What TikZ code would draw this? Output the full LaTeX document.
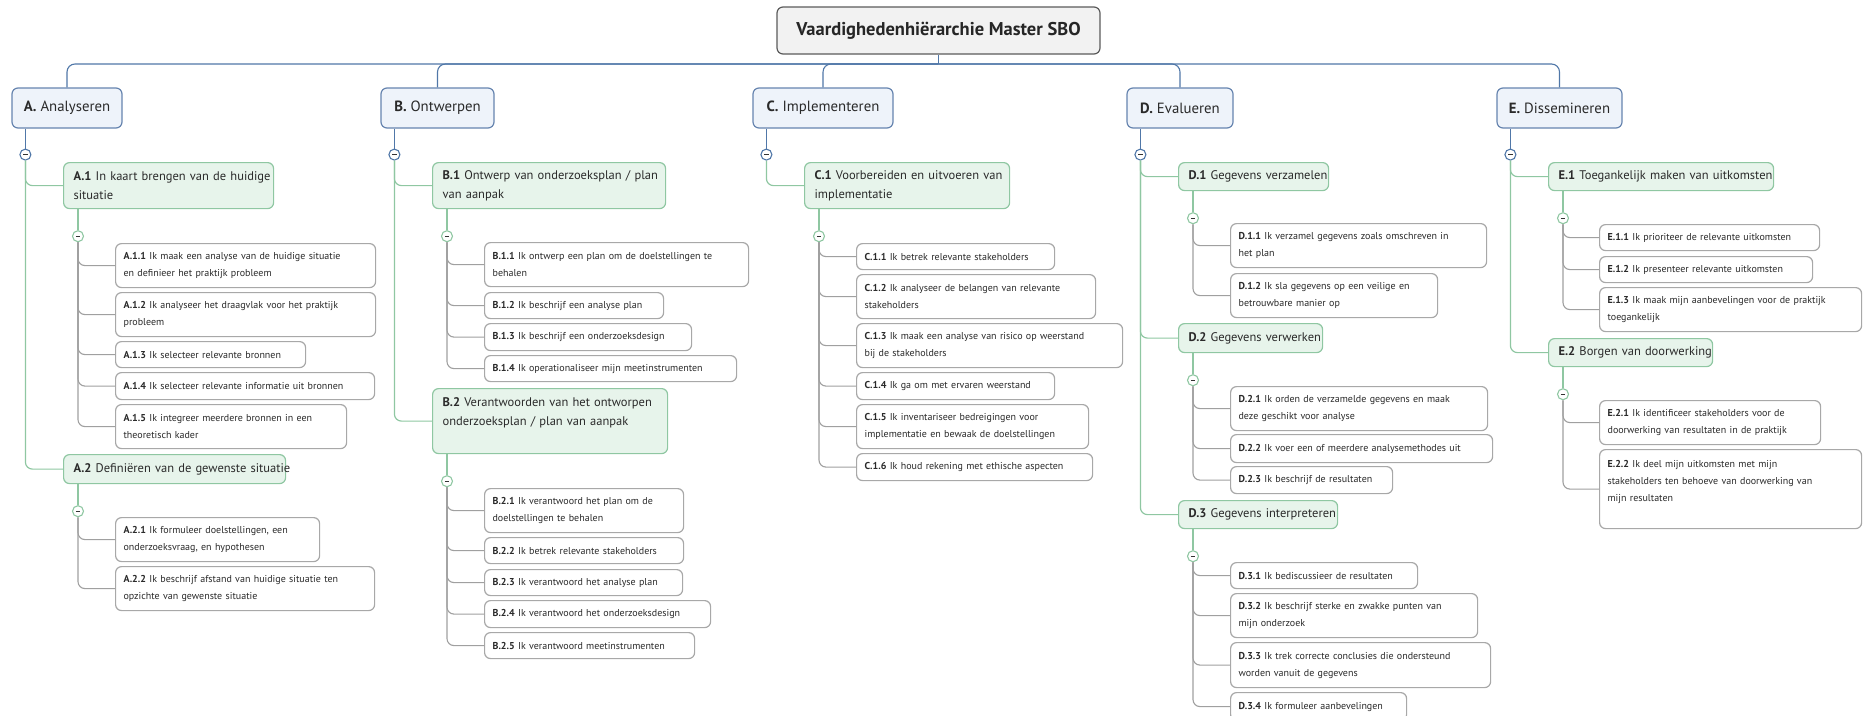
\documentclass[tikz,border=0pt]{standalone}
\usepackage{fontspec}
\setmainfont{PT Sans}
\definecolor{busblue}{HTML}{5077A8}
\definecolor{mainfill}{HTML}{EEF3FA}
\definecolor{maindraw}{HTML}{6684AF}
\definecolor{rootfill}{HTML}{F2F2F2}
\definecolor{rootdraw}{HTML}{5A5A5A}
\definecolor{skillgreen}{HTML}{8FC7A2}
\definecolor{skillfill}{HTML}{E7F4EB}
\definecolor{itemgray}{HTML}{A8A8A8}
\definecolor{linegray}{HTML}{A0A0A0}
\definecolor{txt}{HTML}{2A2A2A}

\begin{document}
\begin{tikzpicture}[
  x=1pt, y=-1pt,
  line width=1.2pt,
  rootbox/.style={
     rectangle,
     rounded corners=6pt,
     draw=rootdraw,
     fill=rootfill,
     minimum width=323pt,
     minimum height=47pt,
     font=\fontsize{18.5}{22}\selectfont\bfseries,
     text=black!85
  },
  mainbox/.style={
     rectangle,
     rounded corners=6pt,
     draw=maindraw,
     fill=mainfill,
     minimum height=40pt,
     font=\fontsize{14.8}{18}\selectfont,
     text=txt
  },
  skill/.style={
     rectangle,
     anchor=north west,
     rounded corners=6pt,
     draw=skillgreen,
     fill=skillfill,
     inner xsep=10pt,
     inner ysep=2pt,
     align=left,
     font=\fontsize{12.5}{19}\selectfont,
     text=txt
  },
  item/.style={
     rectangle,
     anchor=north west,
     rounded corners=6pt,
     draw=itemgray,
     fill=white,
     inner xsep=8pt,
     inner ysep=2pt,
     align=left,
     font=\fontsize{10}{17}\selectfont,
     text=txt
  },
  toggle/.style={
     circle,
     draw=#1,
     fill=white,
     line width=1.1pt,
     minimum size=11pt,
     inner sep=0pt,
     path picture={\draw[black!80, line width=1.4pt]
        ([xshift=-2.2pt]path picture bounding box.center) --
        ([xshift=2.2pt]path picture bounding box.center);}
  },
  busline/.style={draw=busblue, line width=1.1pt},
  greenline/.style={draw=skillgreen, line width=1.2pt},
  grayline/.style={draw=linegray, line width=1.1pt}
]
   \useasboundingbox (0,0) rectangle (1863,715);

   % The root and the five competences
   \node[rootbox] (root) at (938.5,30.5) {Vaardighedenhiërarchie Master SBO};
   \coordinate (bus) at (938.5,64);
   \node[mainbox,minimum width=110pt] (A) at (67,108) {\textbf{A.} Analyseren};
   \node[mainbox,minimum width=113pt] (B) at (437.5,108) {\textbf{B.} Ontwerpen};
   \node[mainbox,minimum width=140pt] (C) at (823,108) {\textbf{C.} Implementeren};
   \node[mainbox,minimum width=106pt] (D) at (1180,108) {\textbf{D.} Evalueren};
   \node[mainbox,minimum width=125pt] (E) at (1559.5,108) {\textbf{E.} Dissemineren};

   % The collapse toggles under the competences
   \node[toggle=busblue] (At) at ([shift={(14,26)}]A.south west) {};
   \node[toggle=busblue] (Bt) at ([shift={(14,26)}]B.south west) {};
   \node[toggle=busblue] (Ct) at ([shift={(14,26)}]C.south west) {};
   \node[toggle=busblue] (Dt) at ([shift={(14,26)}]D.south west) {};
   \node[toggle=busblue] (Et) at ([shift={(14,26)}]E.south west) {};

   % A. Analyseren
   \node[skill,text width=190pt,minimum height=46pt] (A1) at (63,162)
      {\mbox{\textbf{A.1} In kaart brengen van de huidige}\\situatie};
   \node[item,text width=244pt,minimum height=44pt] (A11) at (115,243)
      {\textbf{A.1.1} Ik maak een analyse van de huidige situatie\\en definieer het praktijk probleem};
   \node[item,text width=244pt,minimum height=44pt] (A12) at (115,292)
      {\textbf{A.1.2} Ik analyseer het draagvlak voor het praktijk\\probleem};
   \node[item,text width=174pt,minimum height=26pt] (A13) at (115,341)
      {\textbf{A.1.3} Ik selecteer relevante bronnen};
   \node[item,text width=243pt,minimum height=27pt] (A14) at (115,372)
      {\textbf{A.1.4} Ik selecteer relevante informatie uit bronnen};
   \node[item,text width=215pt,minimum height=44pt] (A15) at (115,404)
      {\textbf{A.1.5} Ik integreer meerdere bronnen in een\\theoretisch kader};
   \node[skill,text width=202pt,minimum height=29pt] (A2) at (63,454)
      {\mbox{\textbf{A.2} Definiëren van de gewenste situatie}};
   \node[item,text width=188pt,minimum height=44pt] (A21) at (115,517)
      {\textbf{A.2.1} Ik formuleer doelstellingen, een\\onderzoeksvraag, en hypothesen};
   \node[item,text width=243pt,minimum height=44pt] (A22) at (115,566)
      {\textbf{A.2.2} Ik beschrijf afstand van huidige situatie ten\\opzichte van gewenste situatie};

   % B. Ontwerpen
   \node[skill,text width=213pt,minimum height=46pt] (B1) at (432,162)
      {\mbox{\textbf{B.1} Ontwerp van onderzoeksplan / plan}\\van aanpak};
   \node[item,text width=248pt,minimum height=44pt] (B11) at (484,242)
      {\textbf{B.1.1} Ik ontwerp een plan om de doelstellingen te\\behalen};
   \node[item,text width=163pt,minimum height=26pt] (B12) at (484,292)
      {\textbf{B.1.2} Ik beschrijf een analyse plan};
   \node[item,text width=191pt,minimum height=27pt] (B13) at (484,323)
      {\textbf{B.1.3} Ik beschrijf een onderzoeksdesign};
   \node[item,text width=236pt,minimum height=26pt] (B14) at (484,355)
      {\textbf{B.1.4} Ik operationaliseer mijn meetinstrumenten};
   \node[skill,text width=215pt,minimum height=65pt] (B2) at (432,388)
      {\mbox{\textbf{B.2} Verantwoorden van het ontworpen}\\\mbox{onderzoeksplan / plan van aanpak}\\\mbox{}};
   \node[item,text width=183pt,minimum height=44pt] (B21) at (484,488)
      {\textbf{B.2.1} Ik verantwoord het plan om de\\doelstellingen te behalen};
   \node[item,text width=183pt,minimum height=26pt] (B22) at (484,537)
      {\textbf{B.2.2} Ik betrek relevante stakeholders};
   \node[item,text width=182pt,minimum height=26pt] (B23) at (484,569)
      {\textbf{B.2.3} Ik verantwoord het analyse plan};
   \node[item,text width=210pt,minimum height=27pt] (B24) at (484,600)
      {\textbf{B.2.4} Ik verantwoord het onderzoeksdesign};
   \node[item,text width=194pt,minimum height=26pt] (B25) at (484,632)
      {\textbf{B.2.5} Ik verantwoord meetinstrumenten};

   % C. Implementeren
   \node[skill,text width=185pt,minimum height=46pt] (C1) at (804,162)
      {\mbox{\textbf{C.1} Voorbereiden en uitvoeren van}\\implementatie};
   \node[item,text width=182pt,minimum height=26pt] (C11) at (856,243)
      {\textbf{C.1.1} Ik betrek relevante stakeholders};
   \node[item,text width=223pt,minimum height=44pt] (C12) at (856,274)
      {\textbf{C.1.2} Ik analyseer de belangen van relevante\\stakeholders};
   \node[item,text width=250pt,minimum height=44pt] (C13) at (856,323)
      {\textbf{C.1.3} Ik maak een analyse van risico op weerstand\\bij de stakeholders};
   \node[item,text width=182pt,minimum height=27pt] (C14) at (856,372)
      {\textbf{C.1.4} Ik ga om met ervaren weerstand};
   \node[item,text width=216pt,minimum height=44pt] (C15) at (856,404)
      {\textbf{C.1.5} Ik inventariseer bedreigingen voor\\implementatie en bewaak de doelstellingen};
   \node[item,text width=220pt,minimum height=27pt] (C16) at (856,453)
      {\textbf{C.1.6} Ik houd rekening met ethische aspecten};

   % D. Evalueren
   \node[skill,text width=130pt,minimum height=28pt] (D1) at (1178,162)
      {\mbox{\textbf{D.1} Gegevens verzamelen}};
   \node[item,text width=240pt,minimum height=44pt] (D11) at (1230,223)
      {\textbf{D.1.1} Ik verzamel gegevens zoals omschreven in\\het plan};
   \node[item,text width=191pt,minimum height=44pt] (D12) at (1230,273)
      {\textbf{D.1.2} Ik sla gegevens op een veilige en\\betrouwbare manier op};
   \node[skill,text width=124pt,minimum height=29pt] (D2) at (1178,323)
      {\mbox{\textbf{D.2} Gegevens verwerken}};
   \node[item,text width=241pt,minimum height=44pt] (D21) at (1230,386)
      {\textbf{D.2.1} Ik orden de verzamelde gegevens en maak\\deze geschikt voor analyse};
   \node[item,text width=246pt,minimum height=28pt] (D22) at (1230,434)
      {\textbf{D.2.2} Ik voer een of meerdere analysemethodes uit};
   \node[item,text width=146pt,minimum height=27pt] (D23) at (1230,466)
      {\textbf{D.2.3} Ik beschrijf de resultaten};
   \node[skill,text width=139pt,minimum height=28pt] (D3) at (1178,500)
      {\mbox{\textbf{D.3} Gegevens interpreteren}};
   \node[item,text width=171pt,minimum height=26pt] (D31) at (1230,562)
      {\textbf{D.3.1} Ik bediscussieer de resultaten};
   \node[item,text width=231pt,minimum height=44pt] (D32) at (1230,593)
      {\textbf{D.3.2} Ik beschrijf sterke en zwakke punten van\\mijn onderzoek};
   \node[item,text width=244pt,minimum height=45pt] (D33) at (1230,642)
      {\textbf{D.3.3} Ik trek correcte conclusies die ondersteund\\worden vanuit de gegevens};
   \node[item,text width=160pt,minimum height=28pt] (D34) at (1230,692)
      {\textbf{D.3.4} Ik formuleer aanbevelingen};

   % E. Dissemineren
   \node[skill,text width=205pt,minimum height=28pt] (E1) at (1548,162)
      {\mbox{\textbf{E.1} Toegankelijk maken van uitkomsten}};
   \node[item,text width=204pt,minimum height=26pt] (E11) at (1599,224)
      {\textbf{E.1.1} Ik prioriteer de relevante uitkomsten};
   \node[item,text width=197pt,minimum height=26pt] (E12) at (1599,256)
      {\textbf{E.1.2} Ik presenteer relevante uitkomsten};
   \node[item,text width=246pt,minimum height=44pt] (E13) at (1599,287)
      {\textbf{E.1.3} Ik maak mijn aanbevelingen voor de praktijk\\toegankelijk};
   \node[skill,text width=144pt,minimum height=28pt] (E2) at (1548,338)
      {\mbox{\textbf{E.2} Borgen van doorwerking}};
   \node[item,text width=205pt,minimum height=44pt] (E21) at (1599,400)
      {\textbf{E.2.1} Ik identificeer stakeholders voor de\\doorwerking van resultaten in de praktijk};
   \node[item,text width=246pt,minimum height=79pt] (E22) at (1599,449)
      {\textbf{E.2.2} Ik deel mijn uitkomsten met mijn\\stakeholders ten behoeve van doorwerking van\\mijn resultaten\\\mbox{}};

   % The toggles under the skills
   \foreach \s in {A1,A2,B1,B2,C1,D1,D2,D3,E1,E2}
      \node[toggle=skillgreen] (\s t) at ([shift={(15,27)}]\s.south west) {};

   % The bus from the root to the competences
   \draw[busline] (root) -- (bus);
   \draw[busline,rounded corners=8pt] (bus) -| (A);
   \draw[busline,rounded corners=8pt] (bus) -| (B);
   \draw[busline,rounded corners=8pt] (bus) -| (C);
   \draw[busline,rounded corners=8pt] (bus) -| (D);
   \draw[busline,rounded corners=8pt] (bus) -| (E);
   \draw[busline] (A.south -| At) -- (At);
   \draw[busline] (B.south -| Bt) -- (Bt);
   \draw[busline] (C.south -| Ct) -- (Ct);
   \draw[busline] (D.south -| Dt) -- (Dt);
   \draw[busline] (E.south -| Et) -- (Et);

   % Competences to skills
   \draw[greenline,rounded corners=7pt] (At) |- (A1);
   \draw[greenline,rounded corners=7pt] (At) |- (A2);
   \draw[greenline,rounded corners=7pt] (Bt) |- (B1);
   \draw[greenline,rounded corners=7pt] (Bt) |- (B2);
   \draw[greenline,rounded corners=7pt] (Ct) |- (C1);
   \draw[greenline,rounded corners=7pt] (Dt) |- (D1);
   \draw[greenline,rounded corners=7pt] (Dt) |- (D2);
   \draw[greenline,rounded corners=7pt] (Dt) |- (D3);
   \draw[greenline,rounded corners=7pt] (Et) |- (E1);
   \draw[greenline,rounded corners=7pt] (Et) |- (E2);
   \foreach \s in {A1,A2,B1,B2,C1,D1,D2,D3,E1,E2}
      \draw[greenline] (\s.south -| \s t) -- (\s t);

   % Skills to items
   \foreach \i in {A11,A12,A13,A14,A15} \draw[grayline,rounded corners=7pt] (A1t) |- (\i);
   \foreach \i in {A21,A22} \draw[grayline,rounded corners=7pt] (A2t) |- (\i);
   \foreach \i in {B11,B12,B13,B14} \draw[grayline,rounded corners=7pt] (B1t) |- (\i);
   \foreach \i in {B21,B22,B23,B24,B25} \draw[grayline,rounded corners=7pt] (B2t) |- (\i);
   \foreach \i in {C11,C12,C13,C14,C15,C16} \draw[grayline,rounded corners=7pt] (C1t) |- (\i);
   \foreach \i in {D11,D12} \draw[grayline,rounded corners=7pt] (D1t) |- (\i);
   \foreach \i in {D21,D22,D23} \draw[grayline,rounded corners=7pt] (D2t) |- (\i);
   \foreach \i in {D31,D32,D33,D34} \draw[grayline,rounded corners=7pt] (D3t) |- (\i);
   \foreach \i in {E11,E12,E13} \draw[grayline,rounded corners=7pt] (E1t) |- (\i);
   \foreach \i in {E21,E22} \draw[grayline,rounded corners=7pt] (E2t) |- (\i);
\end{tikzpicture}
\end{document}
